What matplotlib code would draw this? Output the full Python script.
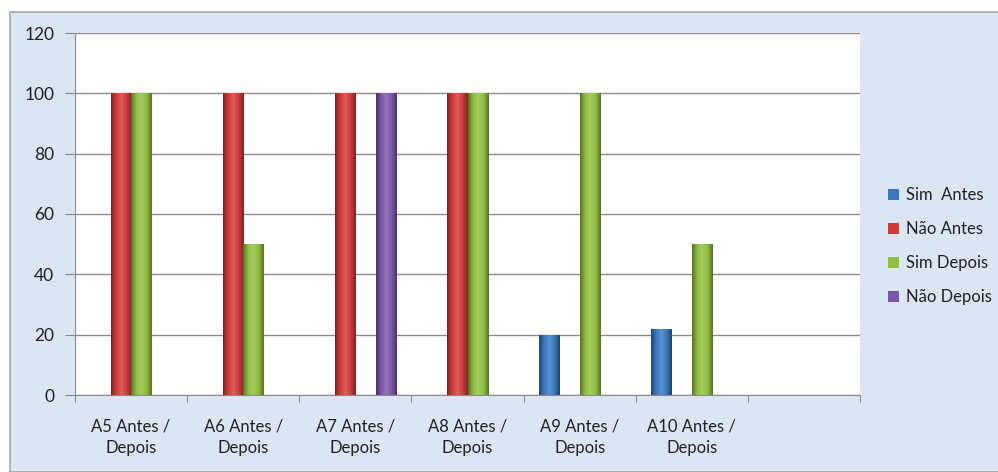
import numpy as np
import matplotlib.pyplot as plt
from matplotlib.colors import LinearSegmentedColormap, to_rgb
from matplotlib.patches import Rectangle

# data
categories = ["A5 Antes /\nDepois", "A6 Antes /\nDepois", "A7 Antes /\nDepois",
              "A8 Antes /\nDepois", "A9 Antes /\nDepois", "A10 Antes /\nDepois", ""]
series = ["Sim  Antes", "Não Antes", "Sim Depois", "Não Depois"]
sim_antes = [0, 0, 0, 0, 20, 22, 0]
nao_antes = [100, 100, 100, 100, 0, 0, 0]
sim_depois = [100, 50, 0, 100, 100, 50, 0]
nao_depois = [0, 0, 100, 0, 0, 0, 0]
values = [sim_antes, nao_antes, sim_depois, nao_depois]
colors = ["#3A78C0", "#D23A3A", "#8FBF3F", "#7C56A8"]

plt.rcParams['font.family'] = ['Lato', 'DejaVu Sans']

fig = plt.figure(figsize=(9.98, 4.72), dpi=100)
fig.patch.set_facecolor("white")
fig.patches.append(Rectangle((10 / 998, 0), 1.0, 1 - 12 / 472, transform=fig.transFigure,
                             facecolor="#DCE6F2", edgecolor="#A6A6A6", lw=1.2, zorder=-10))

ax = fig.add_axes([75 / 998, 1 - 395 / 472, 785 / 998, 362 / 472])
ax.set_facecolor("white")

x = np.arange(len(categories))
w = 1 / 5.5
offsets = [-1.5 * w, -0.5 * w, 0.5 * w, 1.5 * w]


def shade(c):
    # cylinder look: dark edges, lighter band left of centre
    r, g, b = to_rgb(c)
    dark = (r * 0.6, g * 0.6, b * 0.6)
    light = tuple(min(1, v + (1 - v) * 0.18) for v in (r, g, b))
    return LinearSegmentedColormap.from_list("s", [dark, c, light, c, dark])


grad = np.linspace(0, 1, 64).reshape(1, -1)
for vals, off, col, name in zip(values, offsets, colors, series):
    bars = ax.bar(x + off, vals, w, color=col, label=name, zorder=3, lw=0)
    cmap = shade(col)
    for b in bars:
        h = b.get_height()
        if h <= 0:
            continue
        im = ax.imshow(grad, cmap=cmap, aspect="auto", zorder=3.5,
                       extent=(b.get_x(), b.get_x() + b.get_width(), 0, h))
        im.set_clip_path(b)

ax.set_xlim(-0.5, len(categories) - 0.5)
ax.set_ylim(0, 120)
ax.set_yticks(range(0, 121, 20))
ax.yaxis.grid(True, color="#8C8C8C", lw=1)
ax.set_axisbelow(True)

ax.set_xticks(np.arange(len(categories) + 1) - 0.5)
ax.set_xticklabels([])
ax.set_xticks(x, minor=True)
ax.set_xticklabels(categories, minor=True, fontsize=12, color="#222222", linespacing=1.42)
ax.tick_params(axis="x", which="minor", length=0, pad=17)
ax.tick_params(axis="x", which="major", length=5, color="#8C8C8C", direction="out")
ax.tick_params(axis="y", length=7, color="#8C8C8C", labelsize=12.5, labelcolor="#222222", pad=8)

for s in ["top", "right"]:
    ax.spines[s].set_visible(False)
for s in ["left", "bottom"]:
    ax.spines[s].set_color("#8C8C8C")

ax.legend(loc="center left", bbox_to_anchor=(888 / 998, 1 - 246 / 472), bbox_transform=fig.transFigure,
          frameon=False, fontsize=12, borderpad=0, borderaxespad=0,
          handlelength=0.65, handleheight=0.65, handletextpad=0.4, labelspacing=1.08,
          labelcolor="#222222")

fig.savefig("out.png", dpi=100)
